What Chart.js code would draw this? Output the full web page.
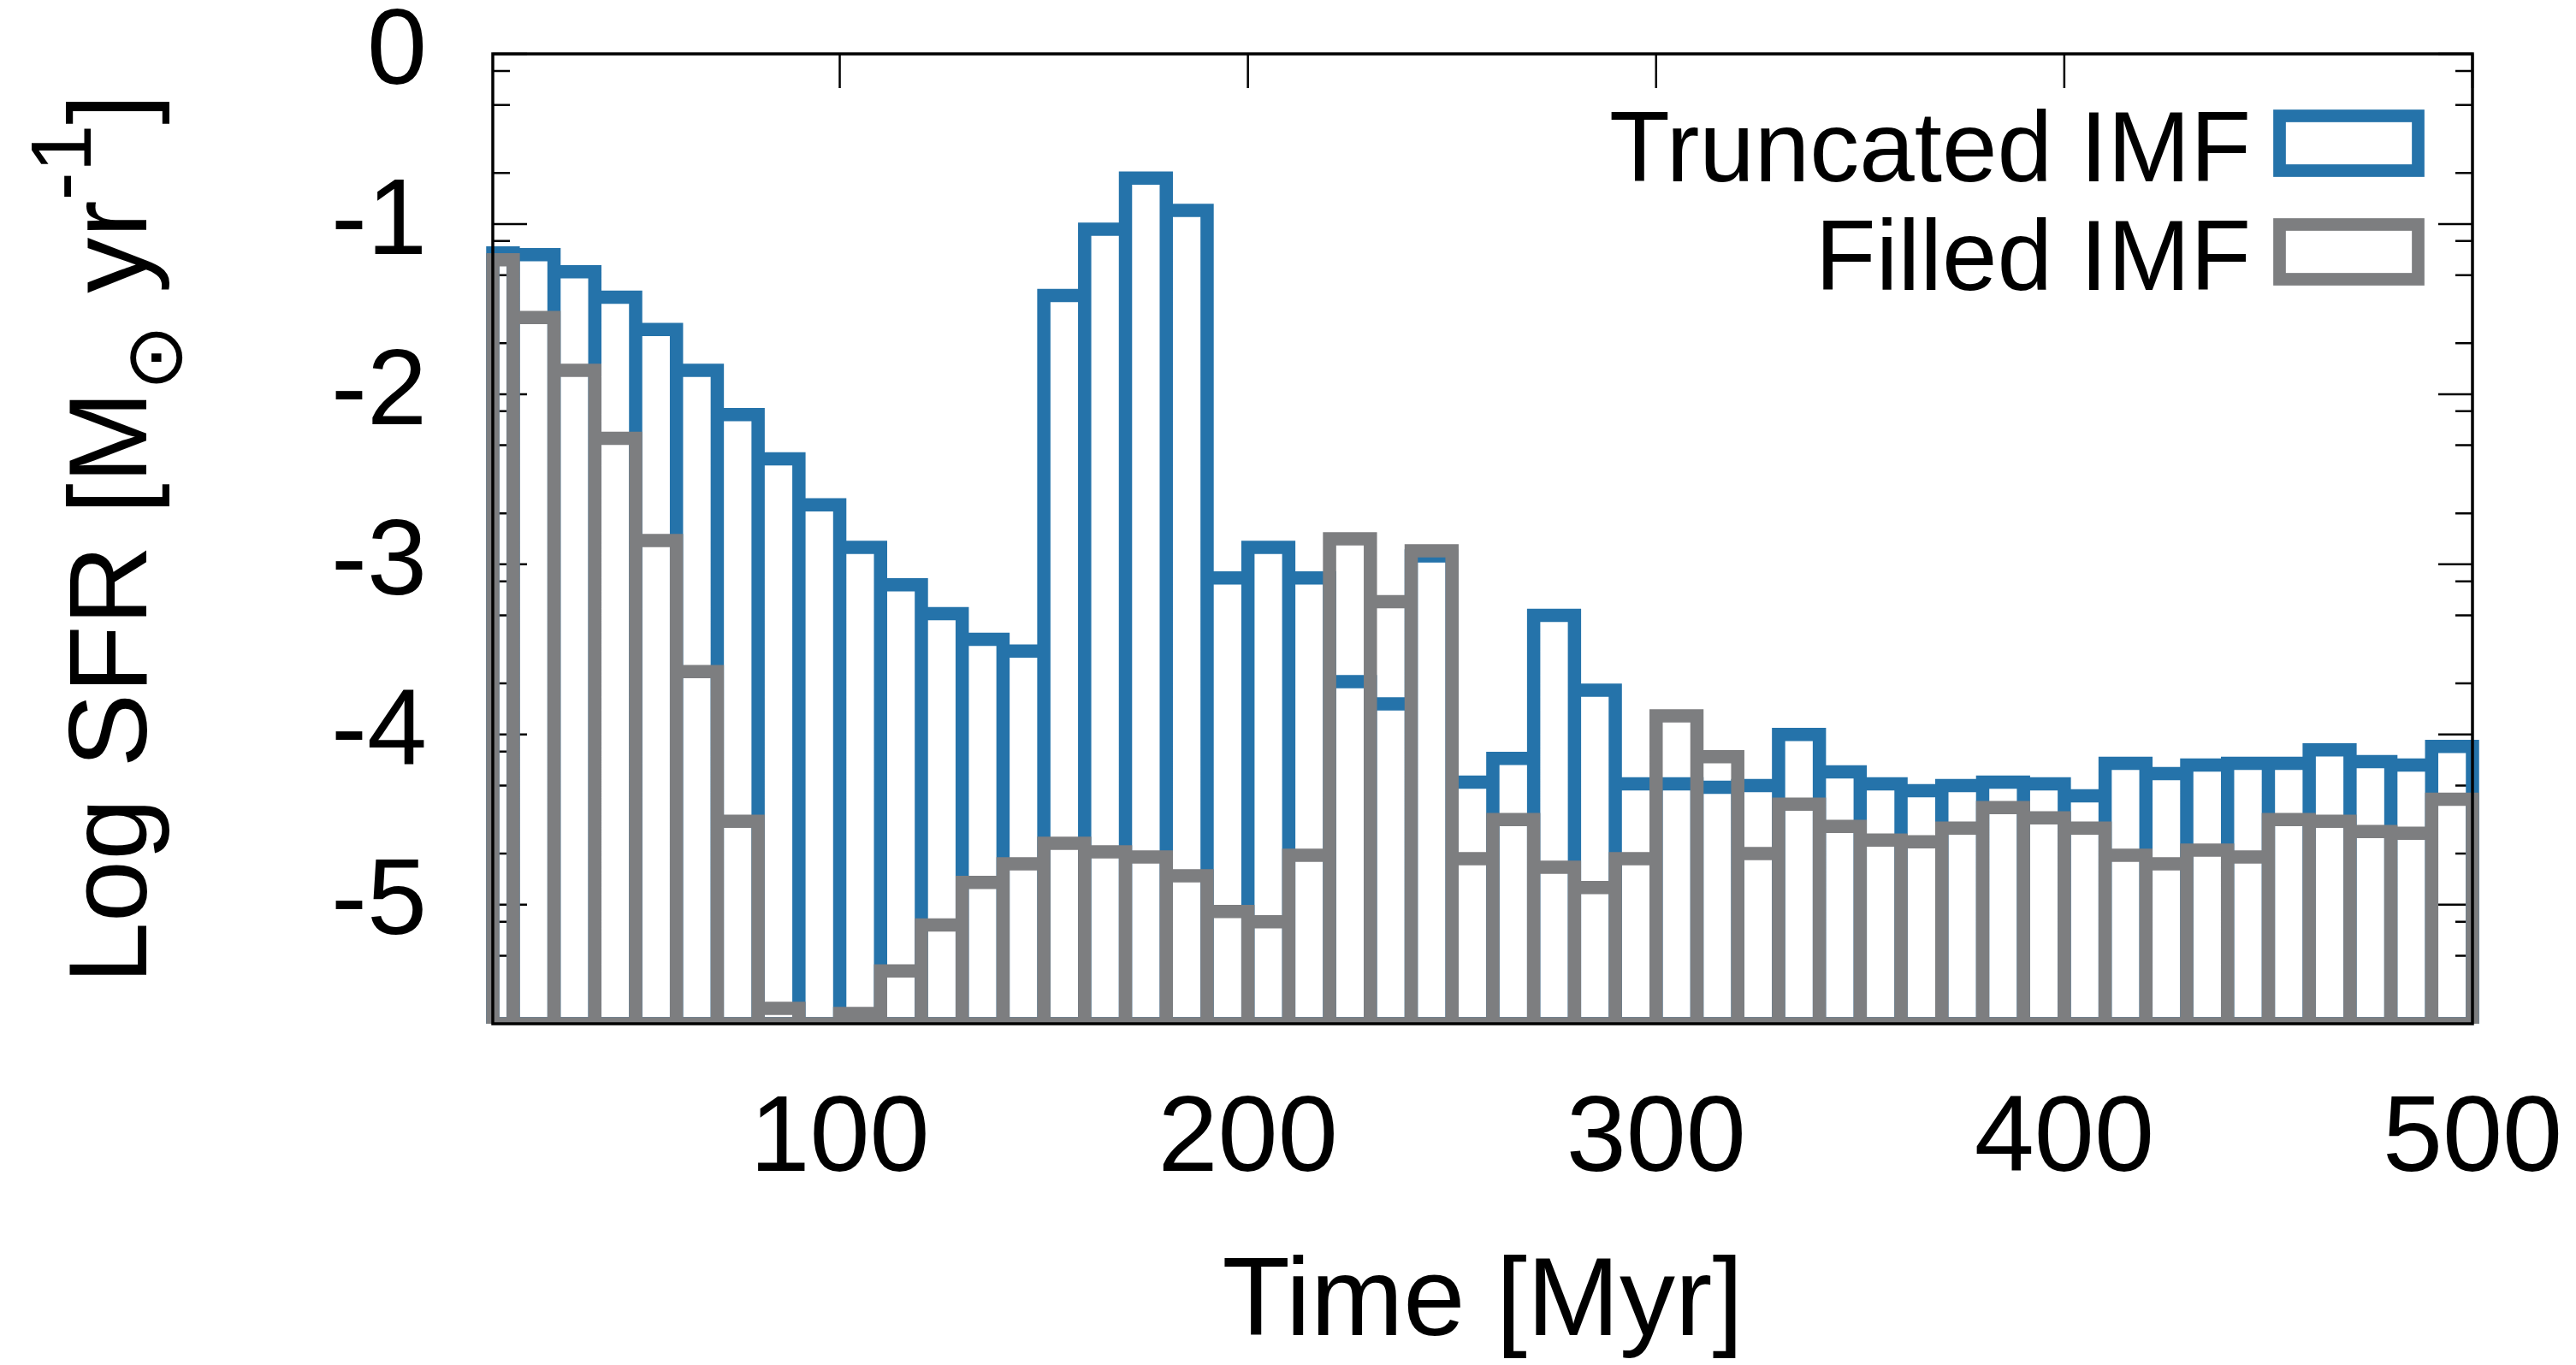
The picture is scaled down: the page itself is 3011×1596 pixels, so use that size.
<!DOCTYPE html>
<html>
<head>
<meta charset="utf-8">
<script src="https://cdn.jsdelivr.net/npm/chart.js@4/dist/chart.umd.min.js"></script>
<style>
  html, body { margin: 0; padding: 0; background: #fff; }
  canvas { display: block; }
</style>
</head>
<body>
<canvas id="sfrChart" width="3011" height="1596"></canvas>
<script>
// left edge of each 10 Myr bin
const timeBins = [10, 20, 30, 40, 50, 60, 70, 80, 90, 100,
    110, 120, 130, 140, 150, 160, 170, 180, 190, 200,
    210, 220, 230, 240, 250, 260, 270, 280, 290, 300,
    310, 320, 330, 340, 350, 360, 370, 380, 390, 400,
    410, 420, 430, 440, 450, 460, 470, 480, 490];
const binWidth = 10;

const truncatedSFR = [-1.17, -1.18, -1.28, -1.43, -1.62, -1.86, -2.12, -2.38, -2.65, -2.90,
    -3.12, -3.29, -3.44, -3.51, -1.42, -1.03, -0.73, -0.92, -3.08, -2.90,
    -3.08, -3.69, -3.82, -2.95, -4.28, -4.14, -3.30, -3.74, -4.29, -4.29,
    -4.31, -4.30, -4.00, -4.22, -4.29, -4.33, -4.30, -4.28, -4.29, -4.36,
    -4.17, -4.23, -4.18, -4.17, -4.17, -4.09, -4.16, -4.18, -4.07];

const filledSFR = [-1.21, -1.55, -1.86, -2.26, -2.86, -3.63, -4.51, -5.61, -5.75, -5.64,
    -5.39, -5.12, -4.87, -4.76, -4.64, -4.69, -4.72, -4.83, -5.04, -5.10,
    -4.71, -2.85, -3.22, -2.92, -4.73, -4.50, -4.78, -4.90, -4.73, -3.89,
    -4.13, -4.70, -4.41, -4.54, -4.62, -4.63, -4.55, -4.43, -4.49, -4.55,
    -4.71, -4.76, -4.68, -4.72, -4.50, -4.51, -4.57, -4.58, -4.38];

const seriesLabels = ['Truncated IMF', 'Filled IMF'];
const xTickValues = [100, 200, 300, 400, 500];
const yTickValues = [0, -1, -2, -3, -4, -5];
const yMinorTickValues = [-0.1, -0.3, -0.7, -1.1, -1.3, -1.7, -2.1, -2.3, -2.7,
    -3.1, -3.3, -3.7, -4.1, -4.3, -4.7, -5.1, -5.3];

const X_MIN = 15, X_MAX = 500;
const Y_MIN = -5.7, Y_MAX = 0;
const BLUE = '#2573aa';
const GRAY = '#7d7e80';
const FONT = "'Liberation Sans', Arial, Helvetica, sans-serif";
const BOX_LINE = 15.5;

// outline of every box (gnuplot "with boxes"), clamped to the x range
function boxOutline(values) {
    var pts = [];
    timeBins.forEach(function (left, i) {
        var x0 = Math.max(left, X_MIN);
        var x1 = left + binWidth;
        pts.push({ x: x0, y: Y_MIN }, { x: x0, y: values[i] }, { x: x1, y: values[i] }, { x: x1, y: Y_MIN });
    });
    pts.push({ x: Math.max(timeBins[0], X_MIN), y: Y_MIN });
    return pts;
}

const axisDecor = {
    id: 'axisDecor',
    beforeDatasetsDraw: function (chart) {
        var ctx = chart.ctx, a = chart.chartArea, x = chart.scales.x, y = chart.scales.y;
        ctx.save();
        ctx.strokeStyle = '#000';
        ctx.lineWidth = 2.5;
        ctx.beginPath();
        xTickValues.forEach(function (v) {
            var px = x.getPixelForValue(v);
            ctx.moveTo(px, a.top); ctx.lineTo(px, a.top + 40);
            ctx.moveTo(px, a.bottom); ctx.lineTo(px, a.bottom - 40);
        });
        yTickValues.forEach(function (v) {
            var py = y.getPixelForValue(v);
            ctx.moveTo(a.left, py); ctx.lineTo(a.left + 40, py);
            ctx.moveTo(a.right, py); ctx.lineTo(a.right - 40, py);
        });
        yMinorTickValues.forEach(function (v) {
            var py = y.getPixelForValue(v);
            ctx.moveTo(a.left, py); ctx.lineTo(a.left + 20, py);
            ctx.moveTo(a.right, py); ctx.lineTo(a.right - 20, py);
        });
        ctx.stroke();
        ctx.restore();
    },
    afterDatasetsDraw: function (chart) {
        var ctx = chart.ctx, a = chart.chartArea;
        ctx.save();
        ctx.strokeStyle = '#000';
        ctx.lineWidth = 3.5;
        ctx.strokeRect(a.left, a.top, a.right - a.left, a.bottom - a.top);
        ctx.restore();
    },
    afterDraw: function (chart) {
        var ctx = chart.ctx, a = chart.chartArea;
        ctx.save();

        // legend, text on the left of the key box
        ctx.font = '116px ' + FONT;
        ctx.textAlign = 'right';
        ctx.textBaseline = 'alphabetic';
        ctx.fillStyle = '#000';
        chart.data.datasets.forEach(function (ds, i) {
            var base = 212 + i * 127;
            ctx.fillText(ds.label, a.right - 259, base);
            ctx.strokeStyle = ds.borderColor;
            ctx.lineWidth = 14.7;
            ctx.strokeRect(a.right - 225.5, base - 76.5, 162, 64);
        });

        // y axis title with sub/superscripts
        var parts = [
            { t: 'Log SFR [M', font: '130px ' + FONT, dy: 0 },
            { t: '\u2299', font: "93px 'DejaVu Sans'", dy: 41 },
            { t: ' yr', font: '130px ' + FONT, dy: 0 },
            { t: '-1', font: '100px ' + FONT, dy: -65 },
            { t: ']', font: '130px ' + FONT, dy: 0 }
        ];
        var total = 0;
        parts.forEach(function (p) {
            ctx.font = p.font;
            p.w = ctx.measureText(p.t).width;
            total += p.w;
        });
        ctx.translate(171, (a.top + a.bottom) / 2);
        ctx.rotate(-Math.PI / 2);
        ctx.textAlign = 'left';
        var cx = -total / 2;
        parts.forEach(function (p) {
            ctx.font = p.font;
            ctx.fillText(p.t, cx, p.dy);
            cx += p.w;
        });
        ctx.restore();
    }
};

const ctx = document.getElementById('sfrChart').getContext('2d');

const graph = new Chart(ctx, {
    type: 'line',
    data: {
        datasets: [
            {
                label: seriesLabels[0],
                data: boxOutline(truncatedSFR),
                borderColor: BLUE,
                order: 1
            },
            {
                label: seriesLabels[1],
                data: boxOutline(filledSFR),
                borderColor: GRAY,
                order: 0
            }
        ]
    },
    options: {
        responsive: false,
        animation: false,
        devicePixelRatio: 1,
        layout: { padding: { top: 63, right: 121, bottom: 0, left: 0 } },
        elements: {
            line: {
                borderWidth: BOX_LINE,
                tension: 0,
                fill: false,
                borderJoinStyle: 'miter',
                borderCapStyle: 'butt'
            },
            point: { radius: 0, hoverRadius: 0 }
        },
        datasets: {
            line: { clip: { left: 8, top: 8, right: 10, bottom: 0 } }
        },
        plugins: {
            legend: { display: false },
            tooltip: { enabled: false }
        },
        events: [],
        scales: {
            x: {
                type: 'linear',
                min: X_MIN,
                max: X_MAX,
                grid: { display: false, drawTicks: false },
                border: { display: false },
                afterBuildTicks: function (scale) {
                    scale.ticks = xTickValues.map(function (v) { return { value: v }; });
                },
                afterFit: function (scale) {
                    scale.height = 399;
                    scale.paddingLeft = 0;
                    scale.paddingRight = 0;
                },
                ticks: {
                    autoSkip: false,
                    maxRotation: 0,
                    padding: 62,
                    color: '#000',
                    font: { family: FONT, size: 126 }
                },
                title: {
                    display: true,
                    text: 'Time [Myr]',
                    color: '#000',
                    font: { family: FONT, size: 130, lineHeight: 1 },
                    padding: { top: 0, bottom: 6 }
                }
            },
            y: {
                min: Y_MIN,
                max: Y_MAX,
                grid: { display: false, drawTicks: false },
                border: { display: false },
                afterBuildTicks: function (scale) {
                    scale.ticks = yTickValues.map(function (v) { return { value: v }; });
                },
                afterFit: function (scale) {
                    scale.width = 576;
                    scale.paddingTop = 0;
                    scale.paddingBottom = 0;
                },
                ticks: {
                    autoSkip: false,
                    padding: 77,
                    color: '#000',
                    font: { family: FONT, size: 126 }
                }
            }
        }
    },
    plugins: [axisDecor]
});
</script>
</body>
</html>
